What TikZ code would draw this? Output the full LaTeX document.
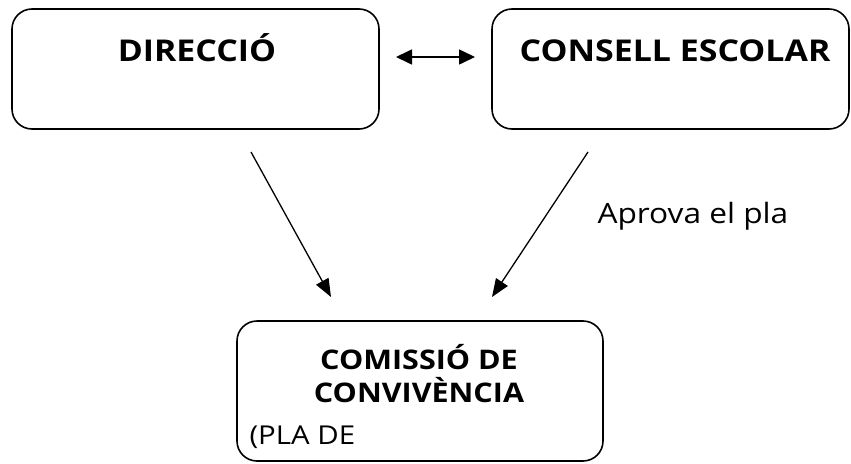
\documentclass[tikz,border=0pt]{standalone}
\usepackage{fontspec}
\setmainfont{Open Sans}[FakeStretch=1.13]
\usetikzlibrary{positioning, arrows.meta}

\begin{document}
\begin{tikzpicture}[x=1pt, y=-1pt, >={Triangle[length=16pt, width=15pt]},
    box/.style={draw, line width=1.6pt, rounded corners=20pt, inner sep=0pt},
    title/.style={font=\fontsize{30}{36}\selectfont\bfseries, anchor=base},
    small/.style={font=\fontsize{27}{32}\selectfont\bfseries, anchor=base},
    plain/.style={font=\fontsize{28}{34}\selectfont, anchor=base west}]
      \useasboundingbox (0,0) rectangle (851,463);
      \node[box, minimum width=367pt, minimum height=120pt] (dir) at (195.5,69) {};
      \node[box, minimum width=357pt, minimum height=120pt] (cons) at (670.5,69) {};
      \node[box, minimum width=366pt, minimum height=140pt] (com) at (420,391) {};
      \node[title] (dirtext) at (197,61) {DIRECCIÓ};
      \node[title] (constext) at (675,61) {CONSELL ESCOLAR};
      \node[small] (comtext1) at (419,369) {COMISSIÓ DE};
      \node[small] (comtext2) at (419,402) {CONVIVÈNCIA};
      \node[plain, font=\fontsize{26}{30}\selectfont] (plantext) at (246,444) {(PLA DE};
      \node[plain] (aprova) at (594,223) {Aprova el pla};
      \coordinate (dl) at (396,57);
      \coordinate (dr) at (475,57);
      \coordinate (d1) at (251,152);
      \coordinate (d2) at (331,297);
      \coordinate (c1) at (588,152);
      \coordinate (c2) at (492,297);
      \draw[<->, line width=1.6pt] (dl) -- (dr);
      \draw[-{Triangle[length=18pt, width=14pt]}, line width=1.3pt] (d1) -- (d2);
      \draw[-{Triangle[length=18pt, width=14pt]}, line width=1.3pt] (c1) -- (c2);
    \end{tikzpicture}
\end{document}
